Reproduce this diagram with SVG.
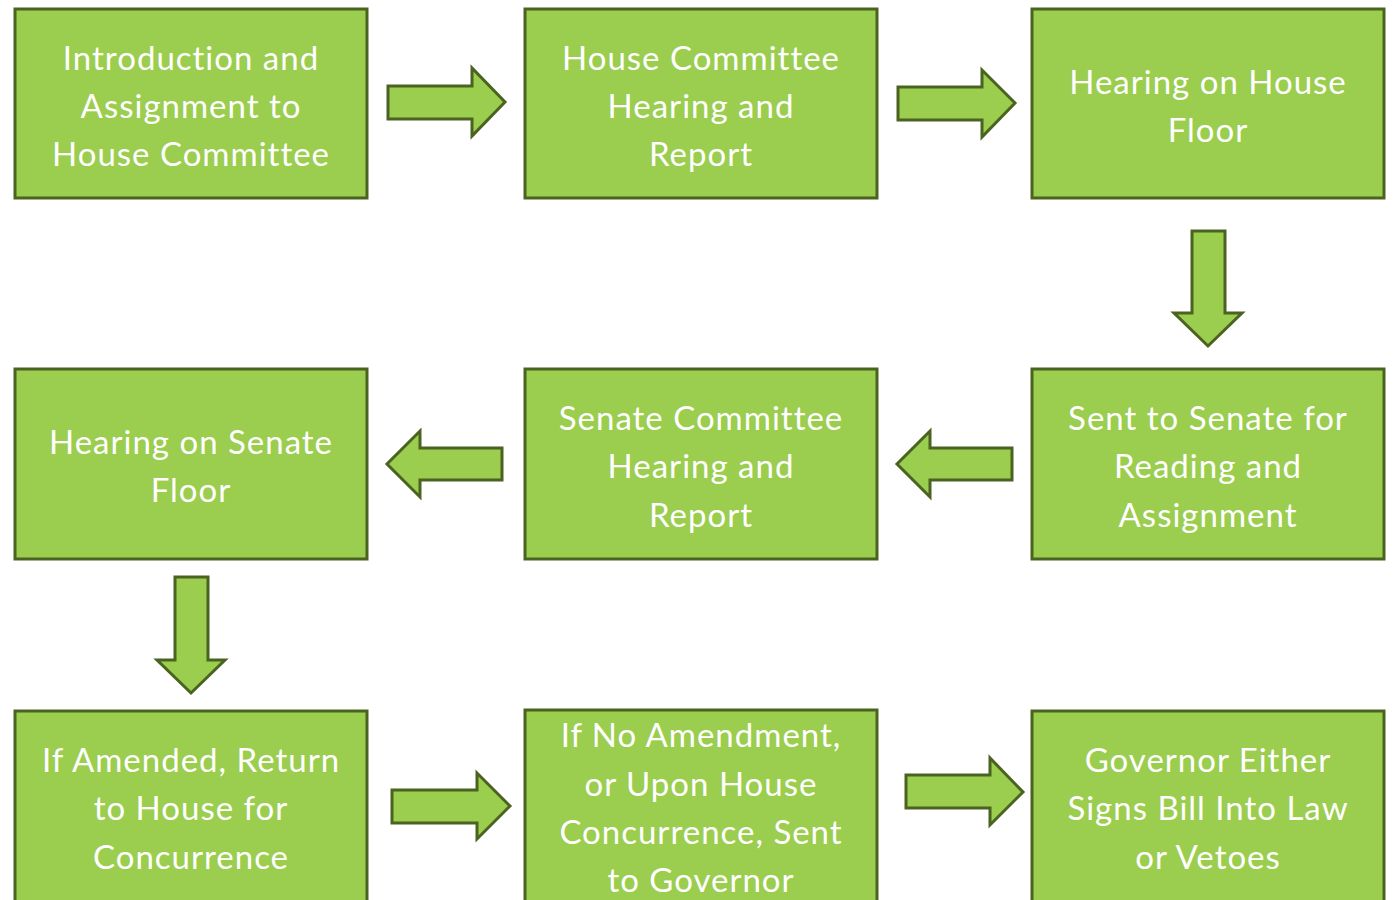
<svg xmlns="http://www.w3.org/2000/svg" width="1397" height="900" viewBox="0 0 1397 900">
<style>
.box{fill:#9BCD4E;stroke:#4A6320;stroke-width:3}
.arr{fill:#9BCD4E;stroke:#4A6320;stroke-width:3;stroke-linejoin:miter}
text{font-family:Lato,"Open Sans",sans-serif;font-size:33px;letter-spacing:1px;fill:#ffffff;text-anchor:middle}
</style>
<rect width="1397" height="900" fill="#ffffff"/>
<g id="n1"><rect class="box" x="15" y="9" width="352" height="189"/><text x="191" y="70">Introduction and</text><text x="191" y="118">Assignment to</text><text x="191" y="166">House Committee</text></g>
<g id="n2"><rect class="box" x="525" y="9" width="352" height="189"/><text x="701" y="70">House Committee</text><text x="701" y="118">Hearing and</text><text x="701" y="166">Report</text></g>
<g id="n3"><rect class="box" x="1032" y="9" width="352" height="189"/><text x="1208" y="94">Hearing on House</text><text x="1208" y="142">Floor</text></g>
<g id="n4"><rect class="box" x="1032" y="369" width="352" height="190"/><text x="1208" y="430">Sent to Senate for</text><text x="1208" y="478">Reading and</text><text x="1208" y="527">Assignment</text></g>
<g id="n5"><rect class="box" x="525" y="369" width="352" height="190"/><text x="701" y="430">Senate Committee</text><text x="701" y="478">Hearing and</text><text x="701" y="527">Report</text></g>
<g id="n6"><rect class="box" x="15" y="369" width="352" height="190"/><text x="191" y="454">Hearing on Senate</text><text x="191" y="502">Floor</text></g>
<g id="n7"><rect class="box" x="15" y="711" width="352" height="200"/><text x="191" y="772">If Amended, Return</text><text x="191" y="820">to House for</text><text x="191" y="869">Concurrence</text></g>
<g id="n8"><rect class="box" x="525" y="710" width="352" height="200"/><text x="701" y="747">If No Amendment,</text><text x="701" y="796">or Upon House</text><text x="701" y="844">Concurrence, Sent</text><text x="701" y="892">to Governor</text></g>
<g id="n9"><rect class="box" x="1032" y="711" width="352" height="200"/><text x="1208" y="772">Governor Either</text><text x="1208" y="820">Signs Bill Into Law</text><text x="1208" y="869">or Vetoes</text></g>
<g id="connectors">
<path class="arr" d="M388,86 H472 V68 L505,102 L472,136 V119 H388 Z"/>
<path class="arr" d="M898,87 H982 V70 L1015,103 L982,137 V120 H898 Z"/>
<path class="arr" d="M1192,231 H1225 V313 H1242 L1208,346 L1174,313 H1192 Z"/>
<path class="arr" d="M502,448 H420 V431 L387,464 L420,497 V480 H502 Z"/>
<path class="arr" d="M1012,448 H930 V431 L897,464 L930,497 V480 H1012 Z"/>
<path class="arr" d="M175,577 H208 V660 H225 L191,693 L157,660 H175 Z"/>
<path class="arr" d="M392,790 H477 V773 L510,806 L477,839 V823 H392 Z"/>
<path class="arr" d="M906,775 H990 V758 L1023,792 L990,825 V808 H906 Z"/>
</g>
</svg>
